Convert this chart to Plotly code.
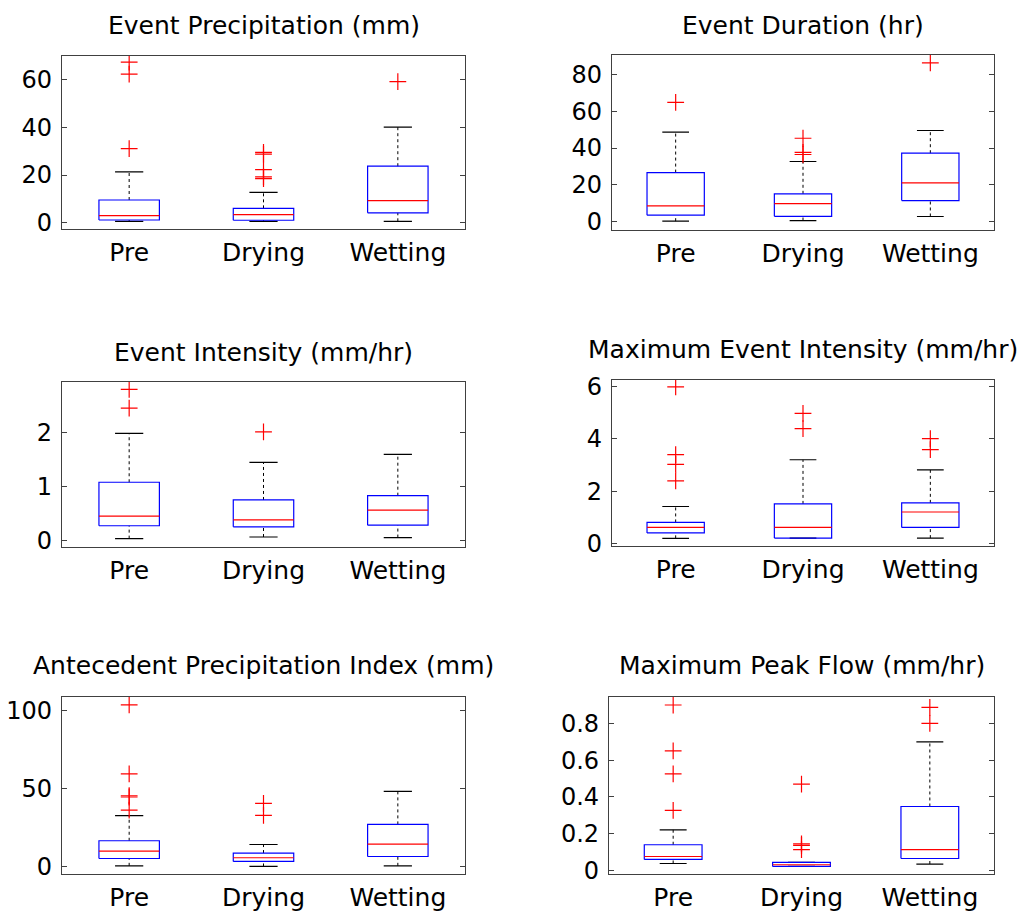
import plotly.graph_objects as go

categories = ["Pre", "Drying", "Wetting"]

titles = ["Event Precipitation (mm)", "Event Duration (hr)",
          "Event Intensity (mm/hr)", "Maximum Event Intensity (mm/hr)",
          "Antecedent Precipitation Index (mm)", "Maximum Peak Flow (mm/hr)"]

# Event Precipitation (mm)
precip_low = [0.55, 0.55, 0.55]
precip_q1 = [1.1, 1.0, 4.1]
precip_med = [2.9, 3.4, 9.25]
precip_q3 = [9.5, 6.0, 23.7]
precip_high = [21.3, 12.7, 40.1]
precip_out = [[31.1, 62.4, 67.4], [18.5, 19.2, 22.3, 28.8, 29.5], [59.2]]

# Event Duration (hr)
dur_low = [0.35, 0.7, 2.9]
dur_q1 = [3.6, 3.0, 11.5]
dur_med = [8.7, 9.9, 21.1]
dur_q3 = [26.7, 15.2, 37.2]
dur_high = [48.6, 32.7, 49.5]
dur_out = [[64.8], [36.5, 37.7, 45.3], [86.2]]

# Event Intensity (mm/hr)
int_low = [0.03, 0.06, 0.05]
int_q1 = [0.27, 0.25, 0.28]
int_med = [0.45, 0.38, 0.56]
int_q3 = [1.08, 0.75, 0.83]
int_high = [1.99, 1.45, 1.6]
int_out = [[2.46, 2.81], [2.02], []]

# Maximum Event Intensity (mm/hr)
maxint_low = [0.19, 0.2, 0.2]
maxint_q1 = [0.4, 0.2, 0.61]
maxint_med = [0.61, 0.61, 1.2]
maxint_q3 = [0.8, 1.51, 1.55]
maxint_high = [1.41, 3.2, 2.81]
maxint_out = [[2.39, 3.02, 3.4, 5.99], [4.39, 4.98], [3.59, 4.01]]

# Antecedent Precipitation Index (mm)
api_low = [0.4, 0.0, 0.4]
api_q1 = [5.1, 3.2, 6.4]
api_med = [9.9, 5.6, 14.4]
api_q3 = [16.5, 8.6, 27.0]
api_high = [32.6, 14.1, 48.2]
api_out = [[36.2, 44.6, 45.4, 59.5, 103.7], [32.8, 40.5], []]

# Maximum Peak Flow (mm/hr)
flow_low = [0.038, 0.022, 0.035]
flow_q1 = [0.06, 0.022, 0.065]
flow_med = [0.076, 0.031, 0.113]
flow_q3 = [0.14, 0.044, 0.348]
flow_high = [0.221, 0.044, 0.699]
flow_out = [[0.327, 0.525, 0.65, 0.9], [0.113, 0.136, 0.145, 0.47], [0.8, 0.887]]

yticks = [[0, 20, 40, 60], [0, 20, 40, 60, 80], [0, 1, 2], [0, 2, 4, 6],
          [0, 50, 100], [0, 0.2, 0.4, 0.6, 0.8]]

panels = [
    (precip_low, precip_q1, precip_med, precip_q3, precip_high, precip_out),
    (dur_low, dur_q1, dur_med, dur_q3, dur_high, dur_out),
    (int_low, int_q1, int_med, int_q3, int_high, int_out),
    (maxint_low, maxint_q1, maxint_med, maxint_q3, maxint_high, maxint_out),
    (api_low, api_q1, api_med, api_q3, api_high, api_out),
    (flow_low, flow_q1, flow_med, flow_q3, flow_high, flow_out),
]

# layout geometry (pixels)
W, H = 1022, 914
boxes_px = [(62, 465, 56, 229), (612, 994, 55, 230),
            (62, 465, 382, 547), (612, 994, 380, 546),
            (62, 465, 697, 874), (609, 994, 697, 874)]
yranges = [[-2.5, 70.2], [-4.2, 90.7], [-0.12, 2.955], [-0.09, 6.27],
           [-4.7, 109], [-0.018, 0.945]]
title_y_px = [26, 26, 353, 350, 666, 666]


def vy(y):
    # vertical placement correction for the rendered page
    return (y - 6.5) / 0.98


FONT = "DejaVu Sans"
bw = 0.225   # box half-width
cw = 0.105   # cap half-width

fig = go.Figure()
layout = dict(width=W, height=H, margin=dict(l=0, r=0, t=0, b=0),
              autosize=False, paper_bgcolor="white", plot_bgcolor="white",
              showlegend=False, annotations=[])

for k, (low, q1, med, q3, high, out) in enumerate(panels):
    xa = "x" if k == 0 else f"x{k+1}"
    ya = "y" if k == 0 else f"y{k+1}"
    pos = [1, 2, 3]
    bx, by, mx, my, wx, wy, cx, cy, ox, oy = [], [], [], [], [], [], [], [], [], []
    for i, p in enumerate(pos):
        bx += [p - bw, p + bw, p + bw, p - bw, p - bw, None]
        by += [q1[i], q1[i], q3[i], q3[i], q1[i], None]
        mx += [p - bw, p + bw, None]
        my += [med[i], med[i], None]
        wx += [p, p, None, p, p, None]
        wy += [q3[i], high[i], None, low[i], q1[i], None]
        cx += [p - cw, p + cw, None, p - cw, p + cw, None]
        cy += [high[i], high[i], None, low[i], low[i], None]
        for v in out[i]:
            ox.append(p)
            oy.append(v)
    common = dict(xaxis=xa, yaxis=ya, hoverinfo="skip", mode="lines")
    fig.add_trace(go.Scatter(x=wx, y=wy, line=dict(color="black", width=1, dash="dot"), **common))
    fig.add_trace(go.Scatter(x=cx, y=cy, line=dict(color="black", width=1.2), **common))
    fig.add_trace(go.Scatter(x=bx, y=by, line=dict(color="#0000ff", width=1.2), **common))
    fig.add_trace(go.Scatter(x=mx, y=my, line=dict(color="#ff0000", width=1.2), **common))
    fig.add_trace(go.Scatter(x=ox, y=oy, mode="markers", xaxis=xa, yaxis=ya, hoverinfo="skip",
                             marker=dict(symbol="cross-thin", size=12,
                                         line=dict(color="#ff0000", width=1.2))))

    x0, x1, y0, y1 = boxes_px[k]
    xkey = "xaxis" if k == 0 else f"xaxis{k+1}"
    ykey = "yaxis" if k == 0 else f"yaxis{k+1}"
    layout[xkey] = dict(domain=[x0 / W, x1 / W], anchor=ya, range=[0.5, 3.5],
                        tickvals=[1, 2, 3], ticktext=categories, ticks="",
                        showline=True, linecolor="#404040", linewidth=1.3, mirror=True,
                        showgrid=False, zeroline=False, ticklabelstandoff=1,
                        tickfont=dict(family=FONT, size=25, color="black"))
    layout[ykey] = dict(domain=[1 - vy(y1) / H, 1 - vy(y0) / H], anchor=xa, range=yranges[k],
                        tickvals=yticks[k], ticks="inside", ticklen=5, tickcolor="#404040",
                        showline=True, linecolor="#404040", linewidth=1.3, mirror="ticks",
                        showgrid=False, zeroline=False, ticklabelstandoff=4,
                        tickfont=dict(family=FONT, size=24, color="black"))
    layout["annotations"].append(dict(
        text=titles[k], x=(x0 + x1) / 2 / W, y=1 - vy(title_y_px[k]) / H,
        xref="paper", yref="paper", xanchor="center", yanchor="middle",
        showarrow=False, font=dict(family=FONT, size=25, color="black")))

fig.update_layout(**layout)
fig.write_html("out.html", config={"displayModeBar": False},
               post_script="document.body.style.margin='0px';document.body.style.overflow='hidden';")
